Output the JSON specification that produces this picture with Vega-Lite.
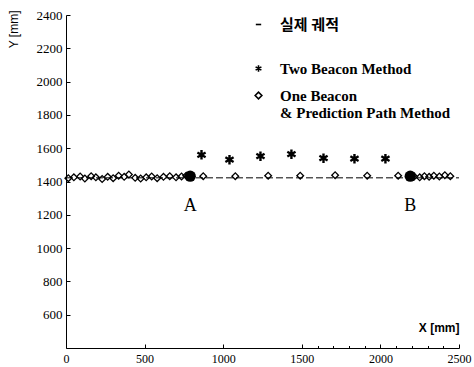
{
  "$schema": "https://vega.github.io/schema/vega-lite/v6.json",
  "width": 393,
  "height": 333,
  "autosize": {"type": "none"},
  "padding": {"left": 66, "top": 15, "right": 15, "bottom": 19},
  "background": "white",
  "config": {"view": {"stroke": null}, "font": "Liberation Sans"},
  "resolve": {"axis": {"x": "independent"}},
  "layer": [
    {
      "layer": [
        {
          "data": {"values": [{"x": 0, "y": 1422}, {"x": 2500, "y": 1422}]},
          "mark": {"type": "line", "color": "black", "strokeWidth": 1, "strokeDash": [7, 3]},
          "encoding": {
            "x": {
              "field": "x", "type": "quantitative",
              "scale": {"domain": [0, 2500], "nice": false, "zero": false},
              "axis": {
                "orient": "bottom",
                "values": [0, 500, 1000, 1500, 2000, 2500], "tickCount": 20, "format": "d", "labelOverlap": false,
                "grid": false, "tickSize": -4, "tickColor": "black", "domainColor": "black",
                "labelFont": "Liberation Sans Narrow", "labelFontSize": 12, "labelColor": "black",
                "labelPadding": 9, "labelFlush": false,
                "title": "X [mm]", "titleAnchor": "end", "titleY": -17, "titleBaseline": "alphabetic",
                "titleFont": "Liberation Sans", "titleFontSize": 12, "titleFontWeight": "bold", "titleColor": "black"
              }
            },
            "y": {
              "field": "y", "type": "quantitative",
              "scale": {"domain": [400, 2400], "nice": false, "zero": false},
              "axis": {
                "values": [600, 800, 1000, 1200, 1400, 1600, 1800, 2000, 2200, 2400], "tickCount": 20, "format": "d", "labelOverlap": false,
                "grid": false, "tickSize": -4, "tickColor": "black", "domainColor": "black",
                "labelFont": "Liberation Sans Narrow", "labelFontSize": 13, "labelColor": "black",
                "labelPadding": 8,
                "title": "Y [mm]", "titleAnchor": "end", "titleAngle": -90, "titleX": -53, "titleY": -5,
                "titleBaseline": "middle",
                "titleFont": "Liberation Sans", "titleFontSize": 12, "titleFontWeight": "normal", "titleColor": "black"
              }
            }
          }
        },
        {
          "data": {"values": [
            {"series": "Two Beacon Method", "x": 862, "y": 1560},
            {"series": "Two Beacon Method", "x": 1040, "y": 1531},
            {"series": "Two Beacon Method", "x": 1237, "y": 1552},
            {"series": "Two Beacon Method", "x": 1434, "y": 1564},
            {"series": "Two Beacon Method", "x": 1638, "y": 1540},
            {"series": "Two Beacon Method", "x": 1835, "y": 1537},
            {"series": "Two Beacon Method", "x": 2032, "y": 1537}
          ]},
          "mark": {"type": "point", "filled": false, "stroke": "black", "strokeWidth": 2.4, "size": 90, "opacity": 1},
          "encoding": {
            "x": {"field": "x", "type": "quantitative"},
            "y": {"field": "y", "type": "quantitative"},
            "shape": {
              "field": "series", "type": "nominal",
              "scale": {
                "domain": ["실제 궤적", "Two Beacon Method", "One Beacon & Prediction Path Method"],
                "range": ["M-0.8,0L0.8,0", "M0,-1L0,1M-0.866,-0.5L0.866,0.5M-0.866,0.5L0.866,-0.5", "diamond"]
              },
              "legend": {
                "title": null, "orient": "none", "legendX": 185, "legendY": 2,
                "labelFont": "Liberation Serif, Noto Sans CJK KR", "labelFontSize": 15, "labelFontWeight": "bold", "labelColor": "black",
                "labelLimit": 400, "labelOffset": 14, "rowPadding": 11,
                "symbolSize": 45, "symbolStrokeColor": "black", "symbolStrokeWidth": 1.6, "symbolFillColor": "transparent",
                "labelExpr": "datum.label == 'One Beacon & Prediction Path Method' ? ['One Beacon', '& Prediction Path Method'] : datum.label == '실제 궤적' ? ['실제 궤적', ''] : datum.label"
              }
            }
          }
        },
        {
          "data": {"values": [
            {"series": "One Beacon & Prediction Path Method", "x": 15, "y": 1420},
            {"series": "One Beacon & Prediction Path Method", "x": 50, "y": 1425},
            {"series": "One Beacon & Prediction Path Method", "x": 90, "y": 1430},
            {"series": "One Beacon & Prediction Path Method", "x": 120, "y": 1418},
            {"series": "One Beacon & Prediction Path Method", "x": 160, "y": 1432},
            {"series": "One Beacon & Prediction Path Method", "x": 190, "y": 1425},
            {"series": "One Beacon & Prediction Path Method", "x": 230, "y": 1415},
            {"series": "One Beacon & Prediction Path Method", "x": 265, "y": 1428},
            {"series": "One Beacon & Prediction Path Method", "x": 300, "y": 1420},
            {"series": "One Beacon & Prediction Path Method", "x": 335, "y": 1435},
            {"series": "One Beacon & Prediction Path Method", "x": 370, "y": 1428},
            {"series": "One Beacon & Prediction Path Method", "x": 400, "y": 1442},
            {"series": "One Beacon & Prediction Path Method", "x": 440, "y": 1422},
            {"series": "One Beacon & Prediction Path Method", "x": 475, "y": 1418},
            {"series": "One Beacon & Prediction Path Method", "x": 510, "y": 1425},
            {"series": "One Beacon & Prediction Path Method", "x": 545, "y": 1430},
            {"series": "One Beacon & Prediction Path Method", "x": 580, "y": 1420},
            {"series": "One Beacon & Prediction Path Method", "x": 620, "y": 1428},
            {"series": "One Beacon & Prediction Path Method", "x": 660, "y": 1432},
            {"series": "One Beacon & Prediction Path Method", "x": 700, "y": 1425},
            {"series": "One Beacon & Prediction Path Method", "x": 735, "y": 1430},
            {"series": "One Beacon & Prediction Path Method", "x": 765, "y": 1435},
            {"series": "One Beacon & Prediction Path Method", "x": 873, "y": 1432},
            {"series": "One Beacon & Prediction Path Method", "x": 1077, "y": 1432},
            {"series": "One Beacon & Prediction Path Method", "x": 1286, "y": 1435},
            {"series": "One Beacon & Prediction Path Method", "x": 1490, "y": 1435},
            {"series": "One Beacon & Prediction Path Method", "x": 1712, "y": 1438},
            {"series": "One Beacon & Prediction Path Method", "x": 1916, "y": 1435},
            {"series": "One Beacon & Prediction Path Method", "x": 2113, "y": 1435},
            {"series": "One Beacon & Prediction Path Method", "x": 2215, "y": 1430},
            {"series": "One Beacon & Prediction Path Method", "x": 2250, "y": 1425},
            {"series": "One Beacon & Prediction Path Method", "x": 2280, "y": 1432},
            {"series": "One Beacon & Prediction Path Method", "x": 2310, "y": 1428},
            {"series": "One Beacon & Prediction Path Method", "x": 2340, "y": 1435},
            {"series": "One Beacon & Prediction Path Method", "x": 2375, "y": 1430},
            {"series": "One Beacon & Prediction Path Method", "x": 2410, "y": 1438},
            {"series": "One Beacon & Prediction Path Method", "x": 2445, "y": 1432}
          ]},
          "mark": {"type": "point", "filled": false, "stroke": "black", "strokeWidth": 1.3, "size": 45, "opacity": 1},
          "encoding": {
            "x": {"field": "x", "type": "quantitative"},
            "y": {"field": "y", "type": "quantitative"},
            "shape": {"field": "series", "type": "nominal"}
          }
        },
        {
          "data": {"values": [{"x": 790, "y": 1432}, {"x": 2190, "y": 1432}]},
          "mark": {"type": "circle", "color": "black", "size": 130, "opacity": 1},
          "encoding": {
            "x": {"field": "x", "type": "quantitative"},
            "y": {"field": "y", "type": "quantitative"}
          }
        },
        {
          "data": {"values": [{"x": 790, "y": 1250, "label": "A"}, {"x": 2190, "y": 1250, "label": "B"}]},
          "mark": {"type": "text", "font": "Liberation Serif", "fontSize": 18, "color": "black", "baseline": "middle"},
          "encoding": {
            "x": {"field": "x", "type": "quantitative"},
            "y": {"field": "y", "type": "quantitative"},
            "text": {"field": "label"}
          }
        }
      ]
    },
    {
      "data": {"values": [{"x": 0, "y": 1422}, {"x": 2500, "y": 1422}]},
      "mark": {"type": "point", "opacity": 0},
      "encoding": {
        "x": {
          "field": "x", "type": "quantitative",
          "axis": {
            "orient": "bottom", "values": [1600, 1700, 1800, 1900, 2100, 2200, 2300, 2400], "tickCount": 20,
            "labels": false, "domain": false, "grid": false, "title": null,
            "tickSize": -2.5, "tickColor": "black"
          }
        },
        "y": {"field": "y", "type": "quantitative"}
      }
    }
  ]
}
